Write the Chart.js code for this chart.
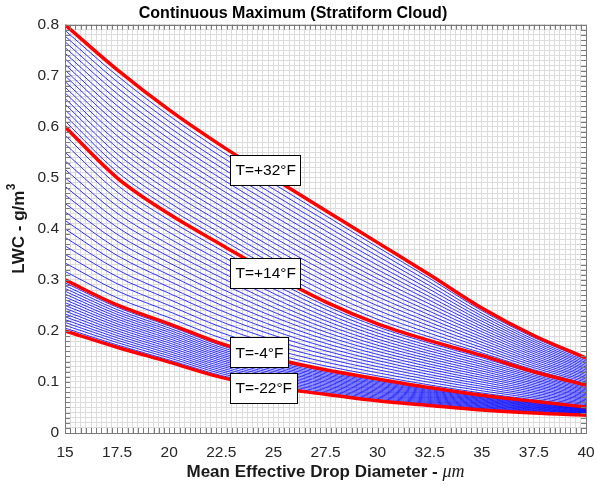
<!DOCTYPE html>
<html><head><meta charset="utf-8">
<script src="https://cdn.jsdelivr.net/npm/chart.js@4"></script>
<style>html,body{margin:0;padding:0;background:#fff}#wrap{width:598px;height:487px}</style>
</head><body><div id="wrap"><canvas id="c" width="598" height="487"></canvas></div>
<script>
const chartTitle = 'Continuous Maximum (Stratiform Cloud)';
const xAxisTitle = 'Mean Effective Drop Diameter - ';
const xAxisUnit = 'μm';
const yAxisTitle = 'LWC - g/m';
const yAxisSup = '3';
const diameters = [15, 17.5, 20, 22.5, 25, 27.5, 30, 32.5, 35, 37.5, 40];
const lwcPlus32 = [0.80, 0.712, 0.633, 0.563, 0.499, 0.436, 0.373, 0.310, 0.245, 0.191, 0.147];
const lwcPlus14 = [0.60, 0.500, 0.429, 0.369, 0.310, 0.257, 0.214, 0.181, 0.152, 0.120, 0.094];
const lwcMinus4 = [0.30, 0.251, 0.214, 0.175, 0.146, 0.124, 0.106, 0.089, 0.074, 0.062, 0.051];
const lwcMinus22 = [0.20, 0.168, 0.139, 0.109, 0.089, 0.076, 0.063, 0.054, 0.045, 0.039, 0.035];
const curveLabels = ['T=+32°F', 'T=+14°F', 'T=-4°F', 'T=-22°F'];
const curves = [lwcPlus32, lwcPlus14, lwcMinus4, lwcMinus22];

const FONT = "'Liberation Sans', Arial, Helvetica, sans-serif";

// hatch lines between neighbouring red curves, drawn from the rendered curve elements
const hatchPlugin = {
  id: 'hatch',
  beforeDatasetsDraw(chart, args, opts) {
    const {ctx, chartArea: a} = chart;
    ctx.save();
    ctx.beginPath(); ctx.rect(a.left, a.top, a.right - a.left, a.bottom - a.top); ctx.clip();
    ctx.strokeStyle = opts.color; ctx.lineWidth = opts.width;
    const n = chart.data.datasets.length;
    const mix = (u, v, t) => u + (v - u) * t;
    for (let d = 0; d < n - 1; d++) {
      const A = chart.getDatasetMeta(d).data, B = chart.getDatasetMeta(d + 1).data;
      for (let k = 1; k < opts.steps; k++) {
        const t = k / opts.steps;
        ctx.beginPath();
        ctx.moveTo(A[0].x, mix(A[0].y, B[0].y, t));
        for (let i = 1; i < A.length; i++) {
          const pa = A[i - 1], pb = B[i - 1], ca = A[i], cb = B[i];
          ctx.bezierCurveTo(
            pa.cp2x, mix(pa.cp2y, pb.cp2y, t),
            ca.cp1x, mix(ca.cp1y, cb.cp1y, t),
            ca.x, mix(ca.y, cb.y, t));
        }
        ctx.stroke();
      }
    }
    ctx.restore();
  }
};

const labelPlugin = {
  id: 'curveLabels',
  afterDatasetsDraw(chart, args, opts) {
    const {ctx} = chart;
    const xs = chart.scales.x, ys = chart.scales.y;
    ctx.save();
    ctx.font = opts.font;
    ctx.textBaseline = 'middle';
    ctx.textAlign = 'left';
    curveLabels.forEach((txt, i) => {
      const a = opts.anchors[i];
      const x = Math.round(xs.getPixelForValue(a.x)) + 0.5;
      const yc = ys.getPixelForValue(a.y);
      const w = Math.round(ctx.measureText(txt).width + 2 * opts.pad);
      const h = opts.height;
      const y = Math.round(yc - h / 2) + 0.5;
      ctx.fillStyle = '#fff';
      ctx.fillRect(x, y, w, h);
      ctx.strokeStyle = '#000'; ctx.lineWidth = 1;
      ctx.strokeRect(x, y, w, h);
      ctx.fillStyle = '#000';
      ctx.fillText(txt, x + opts.pad, yc + 1);
    });
    ctx.restore();
  }
};

const framePlugin = {
  id: 'frame',
  afterDraw(chart) {
    const {ctx, chartArea: a} = chart;
    const xs = chart.scales.x, ys = chart.scales.y;
    ctx.save();
    ctx.strokeStyle = '#7a7a7a'; ctx.lineWidth = 1;
    const L = 5;
    ctx.beginPath();
    xs.ticks.forEach(t => {
      const x = Math.round(xs.getPixelForValue(t.value)) + 0.5;
      ctx.moveTo(x, a.bottom); ctx.lineTo(x, a.bottom - L);
      ctx.moveTo(x, a.top); ctx.lineTo(x, a.top + L);
    });
    ys.ticks.forEach(t => {
      const y = Math.round(ys.getPixelForValue(t.value)) + 0.5;
      ctx.moveTo(a.left, y); ctx.lineTo(a.left + L, y);
      ctx.moveTo(a.right, y); ctx.lineTo(a.right - L, y);
    });
    ctx.stroke();
    ctx.strokeRect(Math.round(a.left) + 0.5, Math.round(a.top) + 0.5, Math.round(a.right - a.left), Math.round(a.bottom - a.top));
    // axis titles
    ctx.fillStyle = '#1a1a1a';
    ctx.textBaseline = 'middle';
    const f1 = 'bold 17px ' + FONT, f2 = 'italic 18px "Liberation Serif", "Times New Roman", serif';
    ctx.font = f1; const w1 = ctx.measureText(xAxisTitle).width;
    ctx.font = f2; const w2 = ctx.measureText(xAxisUnit).width;
    const cx = (a.left + a.right) / 2;
    const x0 = cx - (w1 + w2) / 2;
    ctx.textAlign = 'left';
    ctx.font = f1; ctx.fillText(xAxisTitle, x0, 472);
    ctx.font = f2; ctx.fillText(xAxisUnit, x0 + w1, 472);
    // y title with superscript
    const f3 = 'bold 12px ' + FONT;
    ctx.font = f1; const wy = ctx.measureText(yAxisTitle).width;
    ctx.font = f3; const ws = ctx.measureText(yAxisSup).width;
    ctx.translate(19, (a.top + a.bottom) / 2);
    ctx.rotate(-Math.PI / 2);
    const y0 = -(wy + ws) / 2;
    ctx.font = f1; ctx.fillText(yAxisTitle, y0, 0);
    ctx.font = f3; ctx.fillText(yAxisSup, y0 + wy + 0.5, -7);
    ctx.restore();
  }
};

const tickFont = {family: FONT, size: 15.5};

new Chart(document.getElementById('c'), {
  type: 'line',
  data: {
    datasets: curves.map((vals, i) => ({
      label: curveLabels[i],
      data: diameters.map((d, j) => ({x: d, y: vals[j]})),
      borderColor: '#ff0000',
      borderWidth: 3.5,
      pointRadius: 0,
      cubicInterpolationMode: 'monotone',
      fill: false
    }))
  },
  options: {
    responsive: false,
    animation: false,
    devicePixelRatio: 1,
    layout: {padding: {left: 0, right: 12, top: 0, bottom: 0}},
    plugins: {
      legend: {display: false},
      tooltip: {enabled: false},
      title: {display: true, text: chartTitle, color: '#000', font: {family: FONT, size: 16, weight: 'bold'}, padding: {top: 4, bottom: 1.5}},
      hatch: {steps: 18, color: 'rgba(0,0,255,0.8)', width: 1},
      curveLabels: {font: '15.5px ' + FONT, pad: 5, height: 30,
        anchors: [{x: 22.92, y: 0.516}, {x: 22.92, y: 0.314}, {x: 22.92, y: 0.158}, {x: 22.92, y: 0.088}]}
    },
    scales: {
      x: {
        type: 'linear', min: 15, max: 40,
        afterFit(s) { s.height = 54; s.paddingLeft = 0; s.paddingRight = 0; },
        grid: {color: '#dcdcdc', drawTicks: false, lineWidth: 1},
        border: {display: false},
        ticks: {stepSize: 0.25, autoSkip: false, maxRotation: 0, padding: 10, color: '#262626', font: tickFont,
          callback: v => (Math.round(v * 4) % 10 === 0 ? String(v) : '')}
      },
      y: {
        type: 'linear', min: 0, max: 0.8,
        afterFit(s) { s.width = 65; s.paddingTop = 0; s.paddingBottom = 0; },
        grid: {color: '#dcdcdc', drawTicks: false, lineWidth: 1},
        border: {display: false},
        ticks: {stepSize: 0.01, autoSkip: false, padding: 6, color: '#262626', font: tickFont,
          callback: v => (Math.round(v * 100) % 10 === 0 ? String(Math.round(v * 10) / 10) : '')}
      }
    }
  },
  plugins: [hatchPlugin, labelPlugin, framePlugin]
});
</script>
</body></html>
